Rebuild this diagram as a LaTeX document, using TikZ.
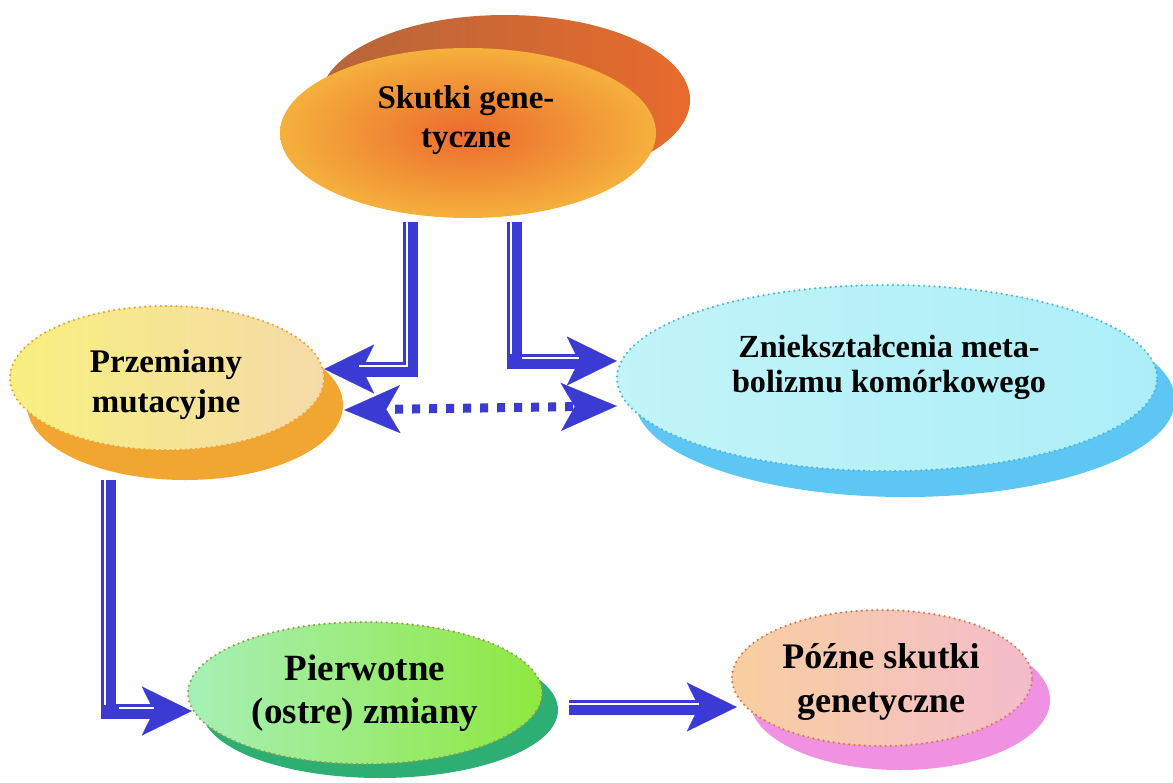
\documentclass[tikz,border=0pt]{standalone}
\usepackage{fontspec}
\setmainfont{Liberation Serif}
\usetikzlibrary{shapes.geometric,arrows.meta,calc}
\definecolor{arrowblue}{HTML}{3B3BD3}
\definecolor{topin}{HTML}{EC6A2E}
\definecolor{topout}{HTML}{F5B03C}
\definecolor{topshl}{HTML}{B5653A}
\definecolor{topshr}{HTML}{E86B2C}
\definecolor{lfl}{HTML}{F7F080}
\definecolor{lfr}{HTML}{F5DAA8}
\definecolor{lsh}{HTML}{F2A632}
\definecolor{lbd}{HTML}{F0A030}
\definecolor{rfl}{HTML}{C2F4F8}
\definecolor{rfr}{HTML}{ACEEF8}
\definecolor{rsh}{HTML}{5EC6F2}
\definecolor{rbd}{HTML}{45B5E8}
\definecolor{gfl}{HTML}{A6F0B8}
\definecolor{gfr}{HTML}{8EE840}
\definecolor{gsh}{HTML}{2DAE72}
\definecolor{gbd}{HTML}{9A9A48}
\definecolor{pfl}{HTML}{F8CFA0}
\definecolor{pfr}{HTML}{F4BCCC}
\definecolor{psh}{HTML}{F092E2}
\definecolor{pbd}{HTML}{D8784C}
\newcommand\fsz[2]{\fontsize{#1}{#2}\selectfont\bfseries}
\begin{document}
\begin{tikzpicture}[x=0.5pt,y=-0.5pt,
  blob/.style={ellipse, inner sep=0pt},
  dotb/.style={draw=#1, line width=1.2pt, dash pattern=on 0pt off 2.6pt, line cap=round},
  conn/.style={draw=arrowblue, line width=7.5pt,
     -{Stealth[length=25pt,width=24.5pt,inset=6pt,line width=0.1pt]}},
  dotconn/.style={draw=arrowblue, line width=4.5pt, dash pattern=on 4pt off 4.5pt, dash phase=4pt,
     {Stealth[length=28pt,width=24pt,inset=7pt,line width=0.1pt]}-{Stealth[length=28pt,width=24pt,inset=7pt,line width=0.1pt]}},
  gapline/.style={draw=white, line width=1.1pt},
  lbl/.style={align=center, inner sep=0pt, text=black}]
\useasboundingbox (0,0) rectangle (1173,782);

% shadows
\node[blob, left color=topshl, right color=topshr, minimum width=370pt*0.5, minimum height=170pt*0.5] (topsh) at (505,100) {};
\node[blob, fill=lsh, minimum width=316pt*0.5, minimum height=150pt*0.5] (leftsh) at (185,405) {};
\node[blob, fill=rsh, minimum width=540pt*0.5, minimum height=194pt*0.5] (rightsh) at (905,400) {};
\node[blob, fill=gsh, minimum width=356pt*0.5, minimum height=136pt*0.5] (blsh) at (380,710) {};
\node[blob, fill=psh, minimum width=300pt*0.5, minimum height=140pt*0.5] (brsh) at (900,700) {};

% fronts
\node[blob, inner color=topin, outer color=topout, minimum width=376pt*0.5, minimum height=170pt*0.5] (top) at (468,133) {};
\node[blob, left color=lfl, right color=lfr, dotb=lbd, minimum width=314pt*0.5, minimum height=144pt*0.5] (left) at (167,378) {};
\node[blob, left color=rfl, right color=rfr, dotb=rbd, minimum width=540pt*0.5, minimum height=186pt*0.5] (right) at (887,378) {};
\node[blob, left color=gfl, right color=gfr, dotb=gbd, minimum width=354pt*0.5, minimum height=142pt*0.5] (bl) at (365,693) {};
\node[blob, left color=pfl, right color=pfr, dotb=pbd, minimum width=300pt*0.5, minimum height=136pt*0.5] (br) at (882,678) {};

% labels
\node[lbl, font=\fsz{16.5}{19.5}] (t1) at (466,120) {Skutki gene-\\tyczne};
\node[lbl, font=\fsz{16.5}{20}] (t2) at (166,385) {Przemiany\\mutacyjne};
\node[lbl, font=\fsz{16.1}{17.5}] (t3) at (889,367) {Zniekształcenia meta-\\bolizmu komórkowego};
\node[lbl, font=\fsz{18.5}{21.5}] (t4) at (365,693) {Pierwotne\\(ostre) zmiany};
\node[lbl, font=\fsz{18}{22}] (t5) at (881,682) {Późne skutki\\genetyczne};

% connectors
\draw[conn] ($(top.south)+(-58,4)$) |- ($(left.east)+(-1,-9)$);
\draw[gapline] ($(top.south)+(-61,4)$) |- ($(left.east)+(34,-12)$);

\draw[conn] ($(top.south)+(46,4)$) |- ($(right.west)+(1,-17)$);
\draw[gapline] ($(top.south)+(43,4)$) -- ($(top.south)+(43,136)$);
\draw[gapline] ($(right.west)+(-94,-20)$) -- ($(right.west)+(-37,-20)$);

\draw[dotconn] ($(left.east)+(19,32)$) -- ($(right.west)+(1,28)$);

\draw[conn] ($(leftsh.south)+(-77,0)$) |- ($(bl.west)+(5,18)$);
\draw[gapline] ($(leftsh.south)+(-80,0)$) -- ($(leftsh.south)+(-80,225)$);
\draw[gapline] ($(bl.west)+(-68,15)$) -- ($(bl.west)+(-33,15)$);

\draw[conn] ($(bl.east)+(26,14)$) -- ($(br.west)+(6,29)$);
\draw[gapline] ($(bl.east)+(26,11)$) -- ($(br.west)+(-32,26)$);
\end{tikzpicture}
\end{document}
